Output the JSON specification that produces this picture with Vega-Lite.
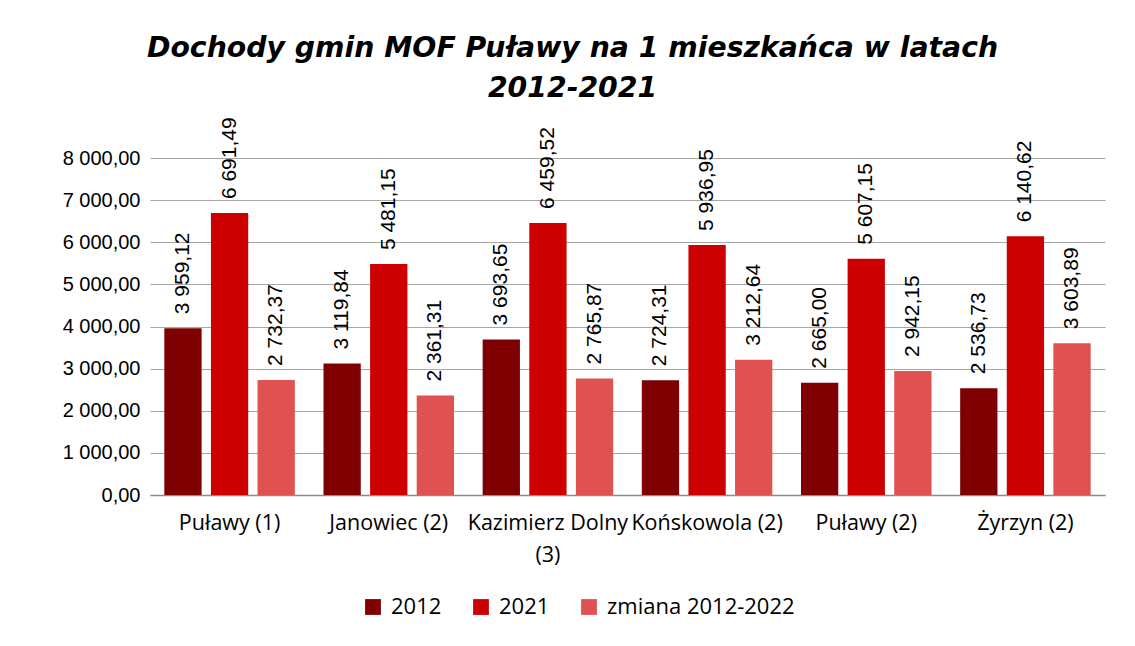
{
  "$schema": "https://vega.github.io/schema/vega-lite/v6.json",
  "autosize": {"type": "none"},
  "width": 955,
  "height": 337,
  "padding": {"left": 150, "top": 158, "right": 30, "bottom": 151},
  "background": "white",
  "config": {
    "locale": {"number": {"decimal": ",", "thousands": " ", "grouping": [3], "currency": ["", ""]}},
    "view": {"stroke": null}
  },
  "title": {
    "text": ["Dochody gmin MOF Puławy na 1 mieszkańca w latach", "2012-2021"],
    "font": "DejaVu Sans",
    "fontSize": 28.3,
    "fontWeight": "bold",
    "fontStyle": "italic",
    "color": "#000000",
    "anchor": "middle",
    "dx": -55,
    "offset": 14,
    "lineHeight": 40
  },
  "data": {
    "values": [
      {"gmina": "Puławy (1)", "seria": "2012", "wartosc": 3959.12},
      {"gmina": "Puławy (1)", "seria": "2021", "wartosc": 6691.49},
      {"gmina": "Puławy (1)", "seria": "zmiana 2012-2022", "wartosc": 2732.37},
      {"gmina": "Janowiec (2)", "seria": "2012", "wartosc": 3119.84},
      {"gmina": "Janowiec (2)", "seria": "2021", "wartosc": 5481.15},
      {"gmina": "Janowiec (2)", "seria": "zmiana 2012-2022", "wartosc": 2361.31},
      {"gmina": "Kazimierz Dolny (3)", "seria": "2012", "wartosc": 3693.65},
      {"gmina": "Kazimierz Dolny (3)", "seria": "2021", "wartosc": 6459.52},
      {"gmina": "Kazimierz Dolny (3)", "seria": "zmiana 2012-2022", "wartosc": 2765.87},
      {"gmina": "Końskowola (2)", "seria": "2012", "wartosc": 2724.31},
      {"gmina": "Końskowola (2)", "seria": "2021", "wartosc": 5936.95},
      {"gmina": "Końskowola (2)", "seria": "zmiana 2012-2022", "wartosc": 3212.64},
      {"gmina": "Puławy (2)", "seria": "2012", "wartosc": 2665.00},
      {"gmina": "Puławy (2)", "seria": "2021", "wartosc": 5607.15},
      {"gmina": "Puławy (2)", "seria": "zmiana 2012-2022", "wartosc": 2942.15},
      {"gmina": "Żyrzyn (2)", "seria": "2012", "wartosc": 2536.73},
      {"gmina": "Żyrzyn (2)", "seria": "2021", "wartosc": 6140.62},
      {"gmina": "Żyrzyn (2)", "seria": "zmiana 2012-2022", "wartosc": 3603.89}
    ]
  },
  "encoding": {
    "x": {
      "field": "gmina",
      "type": "nominal",
      "sort": null,
      "scale": {"paddingInner": 0.18, "paddingOuter": 0.09},
      "axis": {
        "title": null,
        "labelAngle": 0,
        "labelFont": "Open Sans",
        "labelFontSize": 21.5,
        "labelColor": "#000000",
        "labelPadding": 17,
        "labelLineHeight": 32,
        "labelExpr": "datum.value == 'Kazimierz Dolny (3)' ? ['Kazimierz Dolny', '(3)'] : datum.value",
        "ticks": false,
        "domainColor": "#8c8c8c",
        "domainWidth": 1.5,
        "labelLimit": 0
      }
    },
    "xOffset": {
      "field": "seria",
      "type": "nominal",
      "scale": {"paddingInner": 0.2, "paddingOuter": 0}
    },
    "y": {
      "field": "wartosc",
      "type": "quantitative",
      "scale": {"domain": [0, 8000]},
      "axis": {
        "title": null,
        "values": [0, 1000, 2000, 3000, 4000, 5000, 6000, 7000, 8000],
        "format": ",.2f",
        "labelFont": "Liberation Sans",
        "labelFontSize": 20,
        "labelColor": "#000000",
        "labelPadding": 10,
        "ticks": false,
        "domain": false,
        "gridColor": "#a6a6a6",
        "gridWidth": 1.2
      }
    },
    "color": {
      "field": "seria",
      "type": "nominal",
      "scale": {"domain": ["2012", "2021", "zmiana 2012-2022"], "range": ["#7f0000", "#cc0000", "#e05252"]},
      "legend": {
        "title": null,
        "orient": "none",
        "direction": "horizontal",
        "legendX": 212,
        "legendY": 438,
        "symbolType": "square",
        "symbolSize": 250,
        "symbolStrokeWidth": 0,
        "symbolOpacity": 1,
        "labelFont": "Open Sans",
        "labelFontSize": 22,
        "labelColor": "#000000",
        "labelLimit": 0,
        "columnPadding": 28,
        "labelOffset": 7
      }
    }
  },
  "layer": [
    {"mark": {"type": "bar"}},
    {
      "mark": {
        "type": "text",
        "angle": 270,
        "align": "left",
        "baseline": "middle",
        "dx": 14,
        "font": "Liberation Sans",
        "fontSize": 21,
        "color": "#000000"
      },
      "encoding": {
        "text": {"field": "wartosc", "type": "quantitative", "format": ",.2f"},
        "color": {"value": "#000000"}
      }
    }
  ]
}
